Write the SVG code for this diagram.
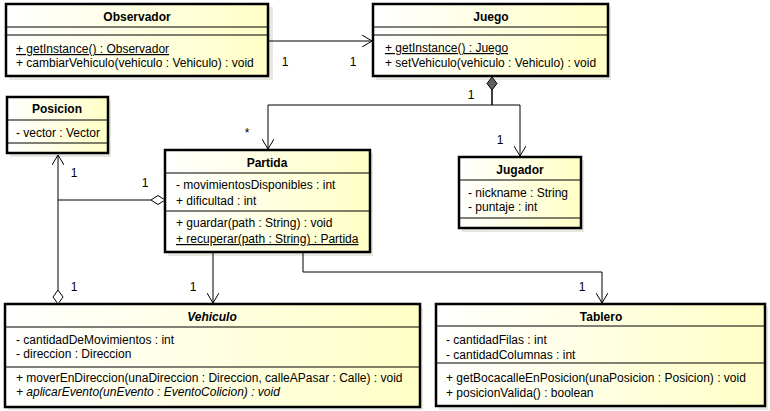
<svg xmlns="http://www.w3.org/2000/svg" width="770" height="411" viewBox="0 0 770 411">
<defs>
<linearGradient id="g" x1="0" y1="0" x2="1" y2="0">
<stop offset="0" stop-color="#ffffff"/>
<stop offset="1" stop-color="#ffffc6"/>
</linearGradient>
<marker id="open" viewBox="0 0 10 12" refX="10" refY="6" markerWidth="10" markerHeight="12" markerUnits="userSpaceOnUse" orient="auto">
<path d="M0,0 L10,6 L0,12" fill="none" stroke="#000" stroke-width="1"/>
</marker>
</defs>
<style>
.box{fill:url(#g);stroke:#000;stroke-width:2.5}
.sh{fill:#d8d8d0;opacity:0.6}
.sep{stroke:#000;stroke-width:1}
text{font-family:"Liberation Sans",Arial,sans-serif;font-size:12px;fill:#000}
.t{font-weight:bold;text-anchor:middle}
.u{text-decoration:underline}
.i{font-style:italic}
.c{stroke:#000;stroke-width:1;fill:none}
.lbl{text-anchor:middle}
</style>
<rect width="770" height="411" fill="#fff"/>

<g id="Observador">
<rect class="sh" x="9" y="7" width="264" height="73"/>
<rect class="box" x="6" y="4" width="262" height="72"/>
<line class="sep" x1="6" y1="27" x2="268" y2="27"/>
<line class="sep" x1="6" y1="35" x2="268" y2="35"/>
<text class="t" x="137" y="21">Observador</text>
<text class="u" x="16" y="53">+ getInstance() : Observador</text>
<text x="16" y="67">+ cambiarVehiculo(vehiculo : Vehiculo) : void</text>
</g>

<g id="Juego">
<rect class="sh" x="376" y="7" width="235" height="73"/>
<rect class="box" x="373" y="4" width="235" height="72"/>
<line class="sep" x1="373" y1="27" x2="608" y2="27"/>
<line class="sep" x1="373" y1="35" x2="608" y2="35"/>
<text class="t" x="491" y="21">Juego</text>
<text class="u" x="385" y="52">+ getInstance() : Juego</text>
<text x="385" y="67">+ setVehiculo(vehiculo : Vehiculo) : void</text>
</g>

<g id="Posicion">
<rect class="sh" x="10" y="100" width="101" height="57"/>
<rect class="box" x="7" y="97" width="101" height="56"/>
<line class="sep" x1="7" y1="120" x2="108" y2="120"/>
<line class="sep" x1="7" y1="143" x2="108" y2="143"/>
<text class="t" x="57" y="113">Posicion</text>
<text x="16" y="137">- vector : Vector</text>
</g>

<g id="Partida">
<rect class="sh" x="168" y="153" width="205" height="103"/>
<rect class="box" x="165" y="150" width="205" height="102"/>
<line class="sep" x1="165" y1="173" x2="370" y2="173"/>
<line class="sep" x1="165" y1="211" x2="370" y2="211"/>
<text class="t" x="267" y="167">Partida</text>
<text x="176" y="189">- movimientosDisponibles : int</text>
<text x="176" y="205">+ dificultad : int</text>
<text x="176" y="227">+ guardar(path : String) : void</text>
<text class="u" x="176" y="243">+ recuperar(path : String) : Partida</text>
</g>

<g id="Jugador">
<rect class="sh" x="462" y="160" width="122" height="72"/>
<rect class="box" x="459" y="157" width="122" height="71"/>
<line class="sep" x1="459" y1="180" x2="581" y2="180"/>
<line class="sep" x1="459" y1="218" x2="581" y2="218"/>
<text class="t" x="520" y="174">Jugador</text>
<text x="468" y="197">- nickname : String</text>
<text x="468" y="211">- puntaje : int</text>
</g>

<g id="Vehiculo">
<rect class="sh" x="8" y="307" width="415" height="103"/>
<rect class="box" x="5" y="304" width="415" height="103"/>
<line class="sep" x1="5" y1="327" x2="420" y2="327"/>
<line class="sep" x1="5" y1="367" x2="420" y2="367"/>
<text class="t i" x="212" y="321">Vehiculo</text>
<text x="16" y="344">- cantidadDeMovimientos : int</text>
<text x="16" y="358">- direccion : Direccion</text>
<text x="16" y="382">+ moverEnDireccion(unaDireccion : Direccion, calleAPasar : Calle) : void</text>
<text class="i" x="16" y="396">+ aplicarEvento(unEvento : EventoColicion) : void</text>
</g>

<g id="Tablero">
<rect class="sh" x="439" y="307" width="329" height="103"/>
<rect class="box" x="436" y="304" width="329" height="102"/>
<line class="sep" x1="436" y1="326" x2="765" y2="326"/>
<line class="sep" x1="436" y1="363" x2="765" y2="363"/>
<text class="t" x="601" y="321">Tablero</text>
<text x="446" y="344">- cantidadFilas : int</text>
<text x="446" y="359">- cantidadColumnas : int</text>
<text x="446" y="382">+ getBocacalleEnPosicion(unaPosicion : Posicion) : void</text>
<text x="446" y="397">+ posicionValida() : boolean</text>
</g>

<g id="connectors">
<path class="c" d="M268,41 H372" marker-end="url(#open)"/>
<path class="c" d="M492,90 V105 H268 V149" marker-end="url(#open)"/>
<path class="c" d="M492,90 V105 H520 V156" marker-end="url(#open)"/>
<path d="M492,77 L497,83.5 L492,90 L487,83.5 Z" fill="#606060" stroke="#000" stroke-width="1"/>
<path class="c" d="M213,252 V303" marker-end="url(#open)"/>
<path class="c" d="M303,252 V272 H602 V303" marker-end="url(#open)"/>
<path class="c" d="M58,290 V155" marker-end="url(#open)"/>
<path d="M58,290 L63,297 L58,304 L53,297 Z" fill="#fff" stroke="#000" stroke-width="1"/>
<path class="c" d="M58,200 H151"/>
<path d="M151,200 L158,195.5 L165,200 L158,204.5 Z" fill="#fff" stroke="#000" stroke-width="1"/>
<text class="lbl" x="285" y="66">1</text>
<text class="lbl" x="353" y="66">1</text>
<text class="lbl" x="471" y="99">1</text>
<text class="lbl" x="500" y="144">1</text>
<text class="lbl" x="247" y="137">*</text>
<text class="lbl" x="74" y="177">1</text>
<text class="lbl" x="145" y="187">1</text>
<text class="lbl" x="74" y="291">1</text>
<text class="lbl" x="193" y="291">1</text>
<text class="lbl" x="582" y="291">1</text>
</g>
</svg>
